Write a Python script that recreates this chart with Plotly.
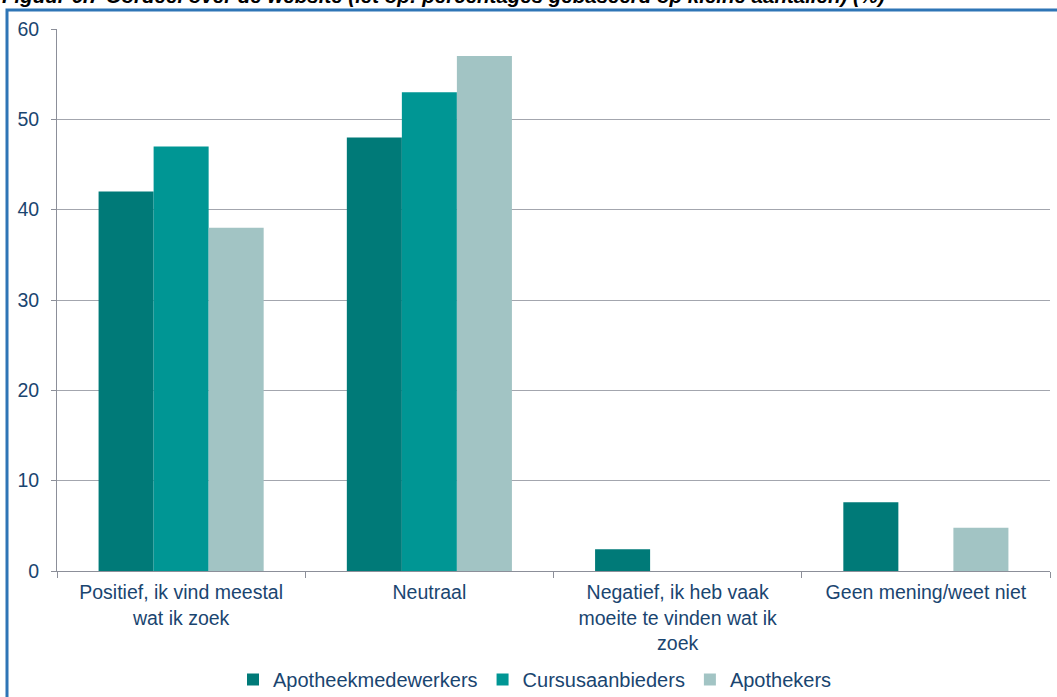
import plotly.graph_objects as go

categories = [
    "Positief, ik vind meestal<br>wat ik zoek",
    "Neutraal",
    "Negatief, ik heb vaak<br>moeite te vinden wat ik<br>zoek",
    "Geen mening/weet niet",
]
series_names = ["Apotheekmedewerkers", "Cursusaanbieders", "Apothekers"]
apotheekmedewerkers = [42, 48, 2.4, 7.6]
cursusaanbieders = [47, 53, 0, 0]
apothekers = [38, 57, 0, 4.8]
y_ticks = [0, 10, 20, 30, 40, 50, 60]
title_text = "Figuur 6.7 Oordeel over de website (let op: percentages gebaseerd op kleine aantallen) (%)"

colors = ["#007A78", "#009694", "#A2C4C4"]
text_color = "#1A4570"
font_family = "Arial, Liberation Sans, sans-serif"

fig = go.Figure()
for name, vals, col in zip(series_names, [apotheekmedewerkers, cursusaanbieders, apothekers], colors):
    fig.add_trace(go.Bar(x=categories, y=vals, name=name, marker=dict(color=col, line=dict(width=0))))

W, H = 1057, 697
L, R, T, B = 57, 7, 29, 126
pw = W - L - R
ph = H - T - B

def px2paper_x(px):
    return (px - L) / pw

def px2paper_y(py):
    return (H - B - py) / ph

fig.update_layout(
    width=W, height=H,
    margin=dict(l=L, r=R, t=T, b=B, autoexpand=False),
    paper_bgcolor="white", plot_bgcolor="white",
    barmode="group", bargap=0.335, bargroupgap=0,
    font=dict(family=font_family, size=19.5, color=text_color),
    showlegend=True,
    legend=dict(orientation="h", x=px2paper_x(535), xanchor="center",
                y=px2paper_y(660), yanchor="top",
                font=dict(size=20, color=text_color), itemwidth=30,
                traceorder="normal"),
    xaxis=dict(showgrid=False, showline=True, linecolor="#8C8F99", linewidth=1,
               ticks="outside", tickson="boundaries", ticklen=6, tickcolor="#8C8F99",
               tickfont=dict(size=19.5, color=text_color), ticklabelstandoff=4),
    yaxis=dict(range=[0, 60], tickvals=y_ticks, showgrid=True, gridcolor="#A3A6AE", gridwidth=1,
               showline=True, linecolor="#8C8F99", linewidth=1, zeroline=False,
               ticks="outside", ticklen=5, tickcolor="#8C8F99",
               tickfont=dict(size=19.5, color=text_color), ticklabelstandoff=8),
)

# outer blue frame (partially off-page like the reference crop)
fig.add_shape(type="rect", xref="paper", yref="paper",
              x0=px2paper_x(7), x1=px2paper_x(W + 20), y0=px2paper_y(H + 20), y1=px2paper_y(10),
              line=dict(color="#2E75B6", width=3), fillcolor="rgba(0,0,0,0)", layer="below")

fig.add_annotation(text="<b><i>" + title_text + "</i></b>", xref="paper", yref="paper",
                   x=px2paper_x(0), xanchor="left", y=px2paper_y(9), yanchor="bottom",
                   showarrow=False, font=dict(family=font_family, size=20.5, color="black"))

fig.write_html("out.html")
